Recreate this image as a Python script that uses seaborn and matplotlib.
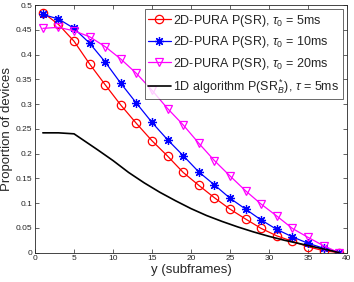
import numpy as np
import pandas as pd
import matplotlib
matplotlib.use("Agg")
import matplotlib.pyplot as plt
import seaborn as sns

sns.set_theme(style="white")
plt.rcParams['font.family'] = ['Liberation Sans', 'DejaVu Sans']
plt.rcParams['mathtext.fontset'] = 'custom'
plt.rcParams['mathtext.rm'] = 'Liberation Sans'
plt.rcParams['mathtext.it'] = 'Liberation Sans:italic'

x_sub = [1, 3, 5, 7, 9, 11, 13, 15, 17, 19, 21, 23, 25, 27, 29, 31, 33, 35, 37, 39]
p_5ms = [0.485, 0.461, 0.427, 0.381, 0.339, 0.298, 0.261, 0.226, 0.195, 0.162, 0.136,
         0.111, 0.088, 0.068, 0.049, 0.034, 0.023, 0.012, 0.004, 0.0]
p_10ms = [0.481, 0.472, 0.453, 0.423, 0.385, 0.342, 0.302, 0.263, 0.228, 0.196, 0.163,
          0.137, 0.110, 0.088, 0.066, 0.047, 0.032, 0.019, 0.009, 0.0]
p_20ms = [0.453, 0.455, 0.448, 0.436, 0.416, 0.391, 0.362, 0.328, 0.291, 0.258, 0.221,
          0.186, 0.155, 0.125, 0.098, 0.074, 0.049, 0.031, 0.014, 0.0]
x_1d = [1, 3, 5, 8, 10, 12, 14, 16, 18, 20, 22, 24, 26, 28, 30, 32, 34, 36, 38, 39]
p_1d = [0.242, 0.242, 0.240, 0.208, 0.186, 0.162, 0.141, 0.122, 0.105, 0.089, 0.075,
        0.063, 0.052, 0.042, 0.033, 0.025, 0.018, 0.011, 0.004, 0.0]

labels = [r'2D-PURA P(SR), $\tau_0$ = 5ms',
          r'2D-PURA P(SR), $\tau_0$ = 10ms',
          r'2D-PURA P(SR), $\tau_0$ = 20ms',
          r'1D algorithm P(SR$^*_B$), $\tau$ = 5ms']

fig = plt.figure(figsize=(3.54, 2.82), dpi=100)
ax = fig.add_axes([0.099, 0.104, 0.881, 0.878])

styles = [
    (p_5ms, '#ff0000', 'o', 'none', 6),
    (p_10ms, '#0000ff', (8, 2, 0), '#0000ff', 6.5),
    (p_20ms, '#ff00ff', 'v', 'none', 6),
]
for (vals, col, mk, fc, ms), lab in zip(styles, labels[:3]):
    df = pd.DataFrame({'x': x_sub, 'y': vals})
    sns.lineplot(data=df, x='x', y='y', ax=ax, color=col, marker=mk, markersize=ms,
                 markerfacecolor=fc, markeredgecolor=col, markeredgewidth=0.9,
                 linewidth=0.9, label=lab)
df1 = pd.DataFrame({'x': x_1d, 'y': p_1d})
sns.lineplot(data=df1, x='x', y='y', ax=ax, color='black', linewidth=1.2, label=labels[3])

ax.set_xlim(0, 40)
ax.set_ylim(0, 0.5)
ax.set_xticks(np.arange(0, 41, 5))
ax.set_yticks(np.arange(0, 0.51, 0.05))
ax.set_yticklabels(['0', '0.05', '0.1', '0.15', '0.2', '0.25', '0.3', '0.35', '0.4', '0.45', '0.5'])
ax.tick_params(direction='in', length=3, width=0.5, labelsize=6, top=True, right=True,
               bottom=True, left=True, colors='#262626', pad=2)
for s in ax.spines.values():
    s.set_linewidth(0.6)
    s.set_color('#262626')
ax.set_xlabel('y (subframes)', fontsize=9.5, labelpad=1)
ax.set_ylabel('Proportion of devices', fontsize=9.5, labelpad=2)

leg = ax.legend(loc='upper right', fontsize=9, frameon=True, fancybox=False,
                edgecolor='#262626', handlelength=1.8, handletextpad=0.2,
                borderpad=0.25, labelspacing=0.45, borderaxespad=0.35)
leg.get_frame().set_linewidth(0.6)

fig.savefig('out.png', dpi=100)
